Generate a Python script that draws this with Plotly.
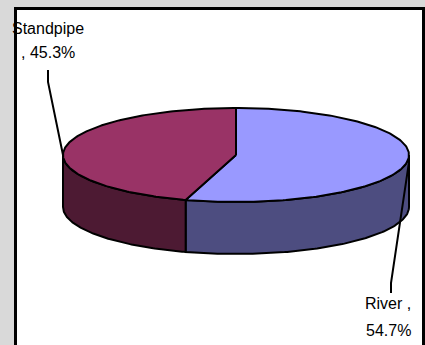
import numpy as np
import plotly.graph_objects as go

# Water source shares (percent)
categories = ["River", "Standpipe"]
shares = [54.7, 45.3]
label_first_line = ["River ,", "Standpipe"]
label_second_line = ["{:.1f}%", ", {:.1f}%"]

top_colors = ["#9999ff", "#993366"]
side_colors = ["#4d4d80", "#4d1a33"]

W, H = 425, 345
# Pie geometry in pixel space (tilted disc)
cx, cy, rx, ry, depth = 236.0, 155.0, 173.0, 47.0, 52.0


def rim(theta_deg, drop=0.0):
    t = np.radians(theta_deg)
    return cx + rx * np.sin(t), cy - ry * np.cos(t) + drop


fig = go.Figure()

# slice angle ranges, clockwise from 12 o'clock
total = sum(shares)
bounds = np.concatenate([[0.0], np.cumsum(shares) / total * 360.0])

# visible side walls (front half of the disc)
for i, cat in enumerate(categories):
    a, b = bounds[i], bounds[i + 1]
    lo, hi = max(a, 90.0), min(b, 270.0)
    if hi <= lo:
        continue
    th = np.linspace(lo, hi, 120)
    xt, yt = rim(th)
    xb, yb = rim(th[::-1], depth)
    xs = np.concatenate([xt, xb, xt[:1]])
    ys = np.concatenate([yt, yb, yt[:1]])
    fig.add_trace(go.Scatter(x=xs, y=ys, mode="lines", fill="toself",
                             fillcolor=side_colors[i],
                             line=dict(color="black", width=2),
                             hoverinfo="skip", showlegend=False))

# top faces
for i, cat in enumerate(categories):
    a, b = bounds[i], bounds[i + 1]
    th = np.linspace(a, b, 200)
    xt, yt = rim(th)
    xs = np.concatenate([[cx], xt, [cx]])
    ys = np.concatenate([[cy], yt, [cy]])
    fig.add_trace(go.Scatter(x=xs, y=ys, mode="lines", fill="toself",
                             fillcolor=top_colors[i],
                             line=dict(color="black", width=2),
                             name=cat, hoverinfo="name", showlegend=False))

# data labels with leader lines
label_pos = [(388, 308, 335), (48, 33, 57)]
leaders = [
    [rim(93, depth * 0.12), (391, 283), (391, 293)],
    [rim(270), (48, 82), (48, 70)],
]
for i, cat in enumerate(categories):
    lx, b1, b2 = label_pos[i]
    pts = leaders[i]
    fig.add_trace(go.Scatter(x=[p[0] for p in pts], y=[p[1] for p in pts],
                             mode="lines", line=dict(color="black", width=2),
                             hoverinfo="skip", showlegend=False))
    for text, base in ((label_first_line[i], b1),
                       (label_second_line[i].format(shares[i]), b2)):
        fig.add_annotation(x=lx, y=base - 5, text=text, showarrow=False,
                           xanchor="center", yanchor="middle",
                           font=dict(family="Liberation Sans, Arial", size=16,
                                     color="black"))

fig.update_layout(
    width=W, height=H,
    margin=dict(l=0, r=0, t=0, b=0),
    paper_bgcolor="#d9d9d9",
    plot_bgcolor="rgba(0,0,0,0)",
    xaxis=dict(range=[0, W], visible=False, fixedrange=True),
    yaxis=dict(range=[H, 0], visible=False, fixedrange=True),
    shapes=[dict(type="rect", xref="x", yref="y", x0=15.5, y0=8.5,
                 x1=423.5, y1=H + 10, fillcolor="white",
                 line=dict(color="black", width=3), layer="below")],
)

fig.write_html("out.html")
